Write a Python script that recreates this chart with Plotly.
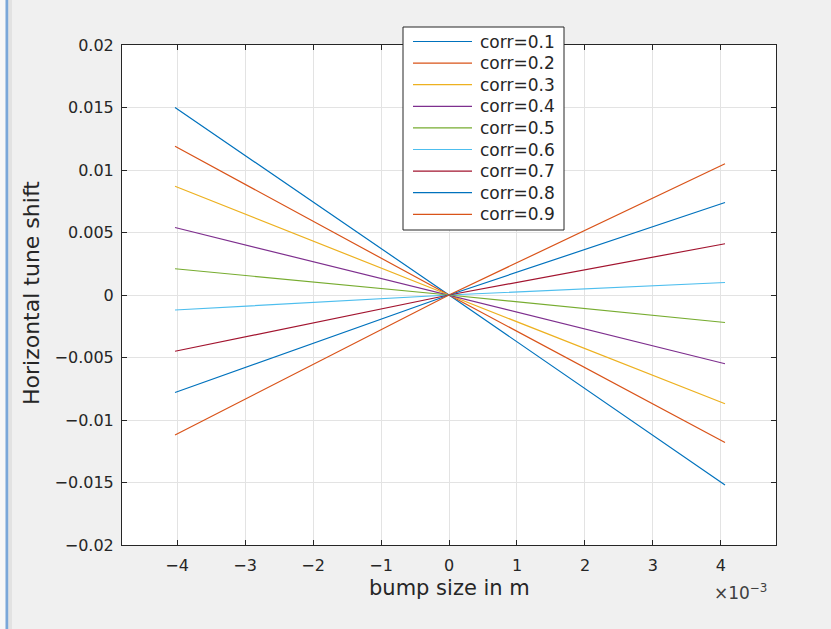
import plotly.graph_objects as go

# bump amplitude (m) at which the tune shift was evaluated
bump = [-4.03e-3, 0.0, 4.06e-3]

corr_labels = ["corr=0.1", "corr=0.2", "corr=0.3", "corr=0.4", "corr=0.5",
               "corr=0.6", "corr=0.7", "corr=0.8", "corr=0.9"]

# horizontal tune shift for each correction level, at the bump values above
shift_01 = [0.0150, 0.0, -0.0152]
shift_02 = [0.0119, 0.0, -0.0118]
shift_03 = [0.0087, 0.0, -0.0087]
shift_04 = [0.0054, 0.0, -0.0055]
shift_05 = [0.0021, 0.0, -0.0022]
shift_06 = [-0.0012, 0.0, 0.0010]
shift_07 = [-0.0045, 0.0, 0.0041]
shift_08 = [-0.0078, 0.0, 0.0074]
shift_09 = [-0.0112, 0.0, 0.0105]
shifts = [shift_01, shift_02, shift_03, shift_04, shift_05,
          shift_06, shift_07, shift_08, shift_09]

colors = ["#0072BD", "#D95319", "#EDB120", "#7E2F8E", "#77AC30",
          "#4DBEEE", "#A2142F", "#0072BD", "#D95319"]

x_ticks = [-4, -3, -2, -1, 0, 1, 2, 3, 4]
y_ticks = [0.02, 0.015, 0.01, 0.005, 0, -0.005, -0.01, -0.015, -0.02]
y_tick_text = ["0.02", "0.015", "0.01", "0.005", "0",
               "\u22120.005", "\u22120.01", "\u22120.015", "\u22120.02"]

FONT = "DejaVu Sans"
INK = "#262626"

fig = go.Figure()
for lab, ys, col in zip(corr_labels, shifts, colors):
    fig.add_trace(go.Scatter(x=bump, y=ys, mode="lines", name=lab,
                             line=dict(color=col, width=1.2), showlegend=False))

W, H = 831, 629
L, R, T, B = 122, 55, 45, 84
pw, ph = W - L - R, H - T - B


def px(xp):
    return (xp - L) / pw


def py(yp):
    return (H - B - yp) / ph


shapes = []
annotations = []

# legend box with one line sample and label per series
lx0, lx1, ly0, ly1 = 403, 564, 27, 230
shapes.append(dict(type="rect", xref="paper", yref="paper",
                   x0=px(lx0), x1=px(lx1), y0=py(ly1), y1=py(ly0),
                   line=dict(color=INK, width=1), fillcolor="white", layer="above"))
row0, step = 41.5, 21.6
for i, (lab, col) in enumerate(zip(corr_labels, colors)):
    yy = row0 + i * step
    shapes.append(dict(type="line", xref="paper", yref="paper",
                       x0=px(413), x1=px(472), y0=py(yy), y1=py(yy),
                       line=dict(color=col, width=1.2), layer="above"))
    annotations.append(dict(xref="paper", yref="paper", x=px(478), y=py(yy),
                            text=lab, showarrow=False, xanchor="left", yanchor="middle",
                            font=dict(family=FONT, size=17, color=INK)))

# window border strip along the left edge
shapes.append(dict(type="rect", xref="paper", yref="paper", x0=px(0), x1=px(5.5),
                   y0=py(H), y1=py(0), line=dict(width=0), fillcolor="#f7f7f7", layer="below"))
shapes.append(dict(type="rect", xref="paper", yref="paper", x0=px(5.5), x1=px(8.5),
                   y0=py(H), y1=py(0), line=dict(width=0), fillcolor="#7aa7d9", layer="below"))
shapes.append(dict(type="rect", xref="paper", yref="paper", x0=px(8.5), x1=px(12),
                   y0=py(H), y1=py(0), line=dict(width=0), fillcolor="#e2e2e2", layer="below"))

# axis titles and exponent label
annotations.append(dict(xref="paper", yref="paper", x=px(449), y=py(588),
                        xanchor="center", yanchor="middle",
                        text="bump size in m", showarrow=False,
                        font=dict(family=FONT, size=21, color=INK)))
annotations.append(dict(xref="paper", yref="paper", x=px(31), y=py(293),
                        xanchor="center", yanchor="middle",
                        text="Horizontal tune shift", showarrow=False, textangle=-90,
                        font=dict(family=FONT, size=22, color=INK)))
annotations.append(dict(xref="paper", yref="paper", x=px(712), y=py(592),
                        text="\u00d710<sup>\u22123</sup>", showarrow=False,
                        xanchor="left", yanchor="middle",
                        font=dict(family=FONT, size=17, color="#404040")))

axis_common = dict(showline=True, linecolor=INK, linewidth=1, mirror="ticks",
                   ticks="inside", ticklen=5, tickcolor=INK, tickwidth=1,
                   showgrid=True, gridcolor="#e3e3e3", gridwidth=1, zeroline=False,
                   tickfont=dict(family=FONT, size=16, color=INK))

fig.update_xaxes(range=[-4.81e-3, 4.81e-3],
                 tickvals=[v * 1e-3 for v in x_ticks],
                 ticktext=[str(v).replace("-", "\u2212") for v in x_ticks],
                 ticklabelstandoff=6, **axis_common)
fig.update_yaxes(range=[-0.02, 0.02], tickvals=y_ticks, ticktext=y_tick_text,
                 ticklabelstandoff=4, **axis_common)

fig.update_layout(width=W, height=H,
                  margin=dict(l=L, r=R, t=T, b=B, autoexpand=False),
                  paper_bgcolor="#f0f0f0", plot_bgcolor="white",
                  showlegend=False, shapes=shapes, annotations=annotations)

fig.write_html("out.html")
